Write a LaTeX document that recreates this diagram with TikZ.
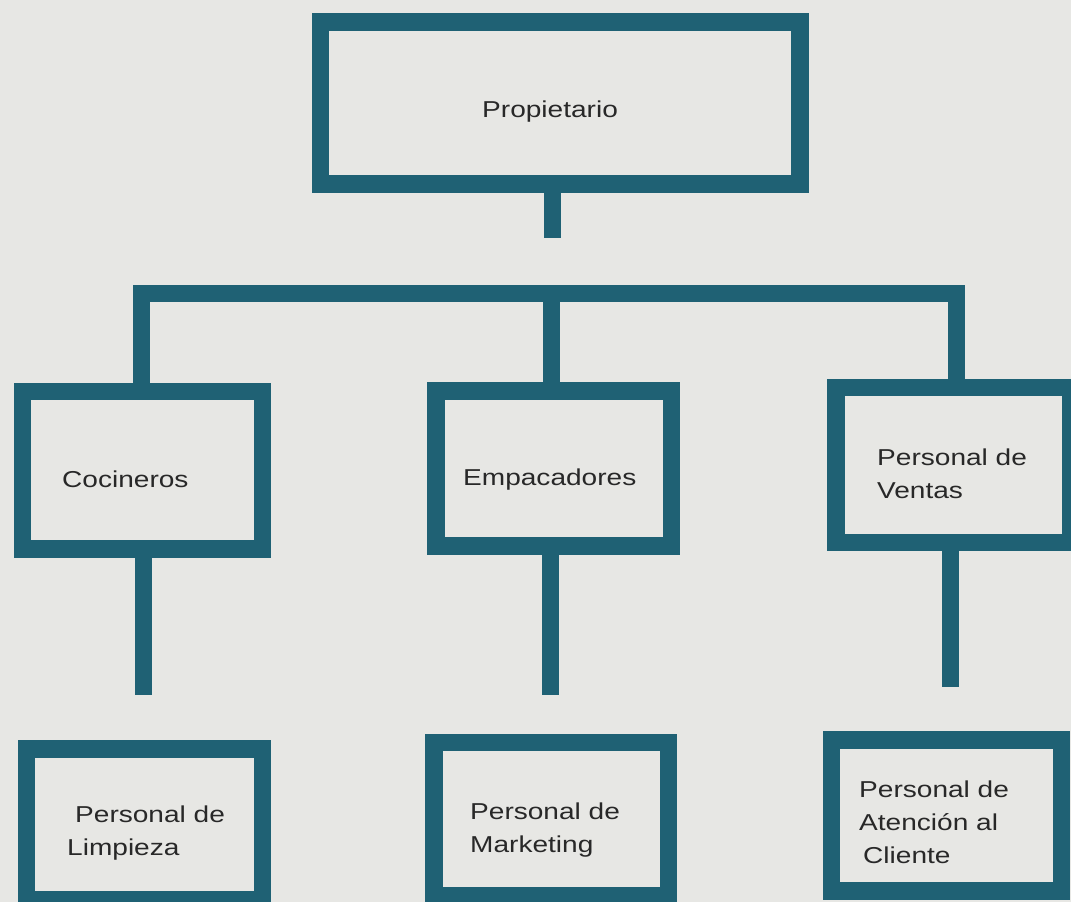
\documentclass[tikz,border=0pt]{standalone}
\usepackage{fontspec}
\newfontfamily\labfont[FakeStretch=1.22]{Liberation Sans}
\definecolor{bgc}{RGB}{231,231,228}
\definecolor{boxc}{RGB}{31,97,116}
\definecolor{txtc}{RGB}{40,40,40}
\newcommand\mylines[1]{\begin{tabular}[t]{@{}l@{}}#1\end{tabular}}
\pgfdeclarelayer{paper}
\pgfdeclarelayer{wires}
\pgfsetlayers{paper,wires,main}
\tikzset{
  orgbox/.style={draw=boxc, fill=bgc, line width=17.5pt, rectangle, inner sep=0pt},
  link/.style={draw=boxc, line width=17pt, line join=miter, line cap=butt},
  lab/.style={anchor=base west, inner sep=0pt, text=txtc, font=\labfont\fontsize{23}{33}\selectfont}
}
\begin{document}
\begin{tikzpicture}[x=1pt,y=-1pt]
\useasboundingbox (0,0) rectangle (1071,902);
\clip (0,0) rectangle (1071,902);
\begin{pgfonlayer}{paper}
\fill[bgc] (0,0) rectangle (1071,902);
\end{pgfonlayer}
% coordinates for connectors
\coordinate (stemtop) at (552,184);
\coordinate (stemend) at (552,238);
\coordinate (bl) at (141,293);
\coordinate (bm) at (551,293);
\coordinate (br) at (956,293);
\coordinate (e1) at (143,695);
\coordinate (e2) at (550,695);
\coordinate (e3) at (950,687);
% boxes
\path (560,103) node[orgbox, minimum width=479.5pt, minimum height=162pt] (prop) {};
\path (142.5,470) node[orgbox, minimum width=240pt, minimum height=157.5pt] (coc) {};
\path (553.75,468.5) node[orgbox, minimum width=235.5pt, minimum height=155pt] (emp) {};
\path (953.25,465) node[orgbox, minimum width=234.5pt, minimum height=155pt] (ven) {};
\path (144.5,824.5) node[orgbox, minimum width=236pt, minimum height=151pt] (lim) {};
\path (551.25,819.25) node[orgbox, minimum width=234.5pt, minimum height=153.5pt] (mkt) {};
\path (946.5,815.5) node[orgbox, minimum width=230pt, minimum height=151pt] (ate) {};
% connectors (behind the boxes)
\begin{pgfonlayer}{wires}
\draw[link] (prop.south -| stemtop) -- (stemend);
\draw[link] (coc.north -| bl) -- (bl) -- (br) -- (ven.north -| br);
\draw[link] (bm) -- (emp.north -| bm);
\draw[link] (coc.south -| e1) -- (e1);
\draw[link] (emp.south -| e2) -- (e2);
\draw[link] (ven.south -| e3) -- (e3);
\end{pgfonlayer}
% texts
\node[lab] (tprop) at (482,117) {Propietario};
\node[lab] (tcoc) at (62,487) {Cocineros};
\node[lab] (temp) at (463,485) {Empacadores};
\node[lab] (tven) at (877,465) {\mylines{Personal de\\Ventas}};
\node[lab] (tlim) at (67,822) {\mylines{\hspace{8pt}Personal de\\Limpieza}};
\node[lab] (tmkt) at (470,819) {\mylines{Personal de\\Marketing}};
\node[lab] (tate) at (859,797) {\mylines{Personal de\\Atención al\\\hspace{4pt}Cliente}};
\end{tikzpicture}
\end{document}
